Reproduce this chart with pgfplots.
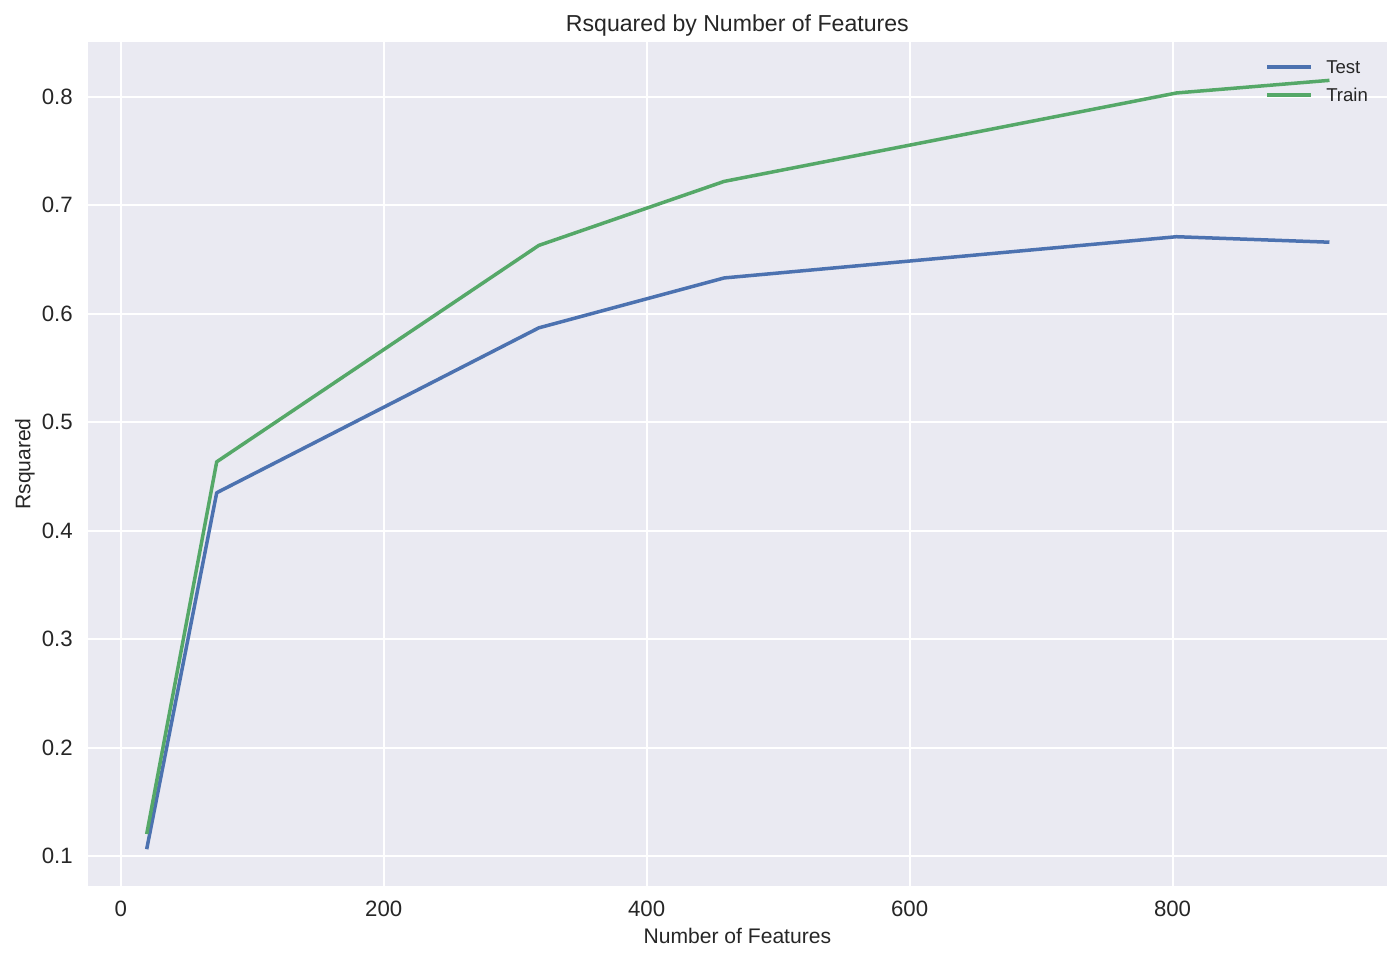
\documentclass[border=0pt]{standalone}
\usepackage{pgfplots}
\pgfplotsset{compat=1.18}
\usepackage{fontspec}
\setmainfont{Liberation Sans}

\definecolor{sbblue}{HTML}{4C72B0}
\definecolor{sbgreen}{HTML}{55A868}
\definecolor{sbbg}{HTML}{EAEAF2}
\definecolor{sbtext}{HTML}{262626}

% R squared of the model against the number of features kept
\pgfplotstableread{
n    test   train
20   0.108  0.122
73   0.435  0.4635
318  0.587  0.663
459  0.633  0.722
803  0.671  0.8035
918  0.666  0.815
}\rsq

\begin{document}
\begin{tikzpicture}
\begin{axis}[
    name=ax,
    scale only axis,
    width=649.35pt, height=422pt,
    xmin=-24.9, xmax=962.9,
    ymin=0.0725, ymax=0.8505,
    xtick={0,200,400,600,800},
    ytick={0.1,0.2,0.3,0.4,0.5,0.6,0.7,0.8},
    /pgf/number format/assume math mode=true,
    yticklabel style={/pgf/number format/fixed, /pgf/number format/fixed zerofill,
        /pgf/number format/precision=1, xshift=-4.1pt},
    xticklabel style={/pgf/number format/1000 sep={}, yshift=-3.9pt},
    ticklabel style={font=\fontsize{11.1}{13}\selectfont, text=sbtext},
    axis line style={draw=none},
    major tick length=0pt,
    grid=major,
    major grid style={white, line width=1pt},
    axis background/.style={fill=sbbg},
    xlabel={Number of Features},
    ylabel={Rsquared},
    title={Rsquared by Number of Features},
    every axis title shift=0pt,
    xlabel style={font=\fontsize{10.55}{12}\selectfont, text=sbtext,
        at={(axis description cs:0.5,-0.0687)}, anchor=base},
    ylabel style={font=\fontsize{10.55}{12}\selectfont, text=sbtext,
        at={(axis description cs:-0.0356,0.5)}, anchor=south},
    title style={font=\fontsize{11.55}{13}\selectfont, text=sbtext,
        at={(axis description cs:0.5,1.0122)}, anchor=base},
    legend style={draw=none, fill=none, inner sep=0pt,
        at={(axis description cs:1,1)}, anchor=north east,
        xshift=-9.2pt, yshift=-9pt,
        font=\fontsize{9.3}{11}\selectfont, text=sbtext,
        nodes={inner sep=0pt, text height=6.7pt, text depth=0pt},
        row sep=7.3pt, column sep=7.6pt},
    legend cell align=left,
    legend image code/.code={\draw[#1] (0pt,0pt) -- (20.3pt,0pt);},
    every axis plot/.append style={line width=1.75pt, line join=round, line cap=rect},
]
\addplot[sbblue] table[x=n, y=test] {\rsq};
\addlegendentry{Test}
\addplot[sbgreen] table[x=n, y=train] {\rsq};
\addlegendentry{Train}
\end{axis}
\pgfresetboundingbox
\path (ax.south west) ++(-44pt,-38.5pt) rectangle ++(700pt,481.5pt);
\end{tikzpicture}
\end{document}
